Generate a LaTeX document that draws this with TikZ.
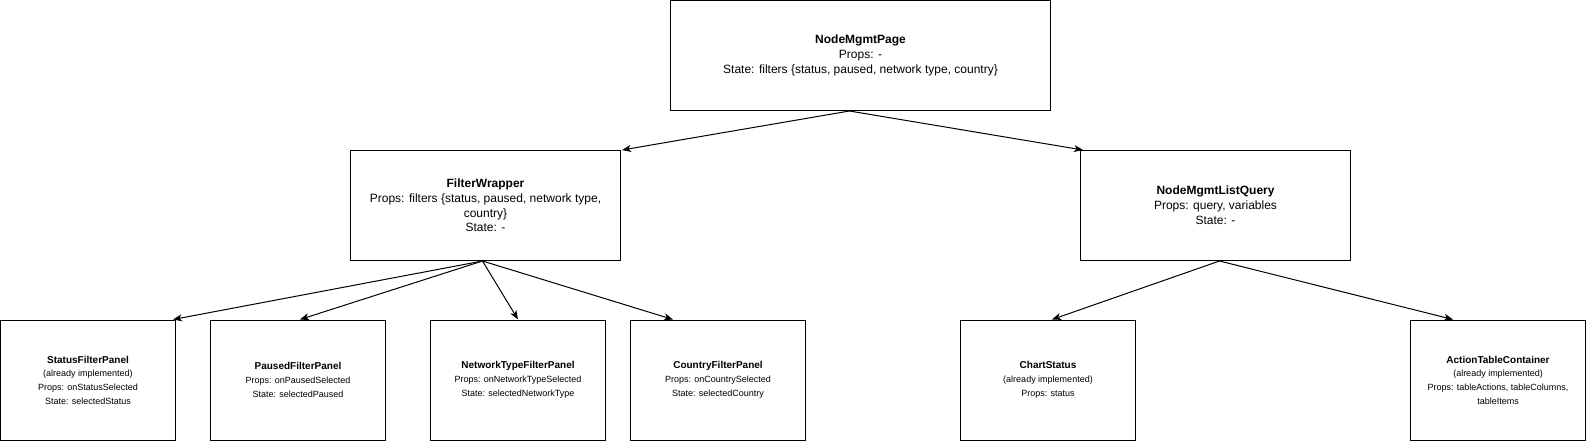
\documentclass[tikz,border=0pt]{standalone}
\usepackage{fontspec}
\setmainfont{Liberation Sans}
\usetikzlibrary{arrows.meta}
\newcommand\boxtitle[1]{{\fontsize{10}{13.7}\selectfont\bfseries #1}}
\begin{document}
\begin{tikzpicture}[x=1pt,y=-1pt,
  box/.style={draw=black, line width=1pt, rectangle, align=center, inner sep=0pt},
  big/.style={box, minimum width=270pt, minimum height=110pt, font=\fontsize{12}{14.8}\selectfont},
  small/.style={box, minimum width=175pt, minimum height=120pt, font=\fontsize{9}{13.7}\selectfont},
  arr/.style={-{Stealth[length=9pt,width=7pt,inset=2.5pt]}, line width=1pt}]
\useasboundingbox (0,0) rectangle (1586,441);

\node[big, minimum width=380pt] (page) at (860.5,55.5)
  {\textbf{NodeMgmtPage}\\Props: -\\State: filters \{status, paused, network type, country\}};
\node[big] (fw) at (485.5,205.5)
  {\textbf{FilterWrapper}\\Props: filters \{status, paused, network type,\\country\}\\State: -};
\node[big] (lq) at (1215.5,205.5)
  {\textbf{NodeMgmtListQuery}\\Props: query, variables\\State: -};

\node[small] (status) at (88,380)
  {\boxtitle{StatusFilterPanel}\\(already implemented)\\Props: onStatusSelected\\State: selectedStatus};
\node[small] (paused) at (298,380)
  {\boxtitle{PausedFilterPanel}\\Props: onPausedSelected\\State: selectedPaused};
\node[small] (net) at (518,380)
  {\boxtitle{NetworkTypeFilterPanel}\\Props: onNetworkTypeSelected\\State: selectedNetworkType};
\node[small] (country) at (718,380)
  {\boxtitle{CountryFilterPanel}\\Props: onCountrySelected\\State: selectedCountry};
\node[small] (chart) at (1048,380)
  {\boxtitle{ChartStatus}\\(already implemented)\\Props: status};
\node[small] (action) at (1498,380)
  {\boxtitle{ActionTableContainer}\\(already implemented)\\Props: tableActions, tableColumns,\\tableItems};

\draw[arr] ([xshift=-11pt]page.south) -- ([xshift=1pt]fw.north east);
\draw[arr] ([xshift=-11pt]page.south) -- ([xshift=3pt]lq.north west);
\draw[arr] ([xshift=-3pt]fw.south) -- ([xshift=-3pt]status.north east);
\draw[arr] ([xshift=-3pt]fw.south) -- ([xshift=2pt]paused.north);
\draw[arr] ([xshift=-3pt]fw.south) -- (net.north);
\draw[arr] ([xshift=-3pt]fw.south) -- ([xshift=-45pt]country.north);
\draw[arr] ([xshift=4pt]lq.south) -- ([xshift=4pt]chart.north);
\draw[arr] ([xshift=4pt]lq.south) -- ([xshift=-45pt]action.north);
\end{tikzpicture}
\end{document}
